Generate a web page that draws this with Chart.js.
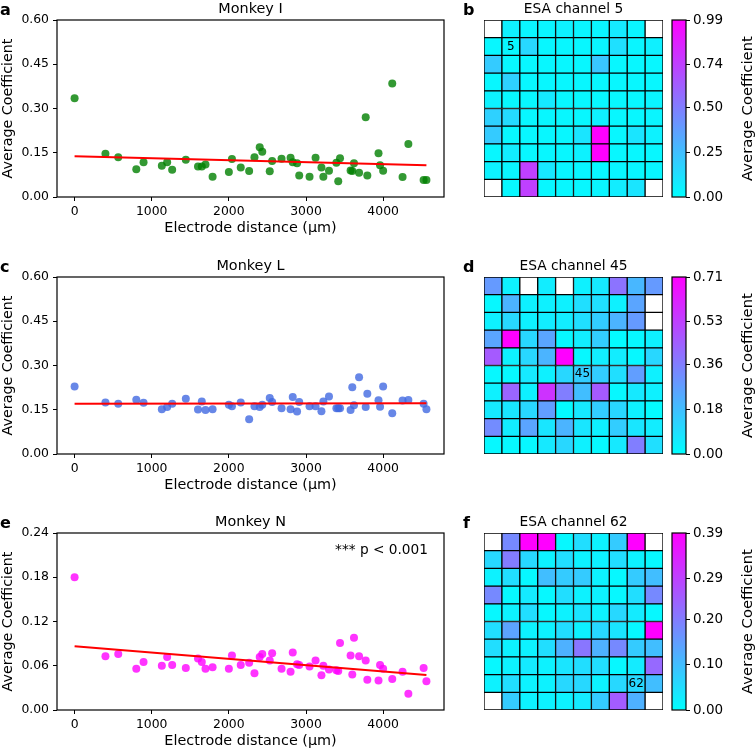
<!DOCTYPE html>
<html>
<head>
<meta charset="utf-8">
<script src="https://cdn.jsdelivr.net/npm/chart.js@4.4.0/dist/chart.umd.min.js"></script>
<style>
html, body { margin: 0; padding: 0; background: #fff; width: 755px; height: 751px; overflow: hidden; }
canvas { position: absolute; }
</style>
</head>
<body>
<canvas id="scatterI" width="450" height="240" style="left:0;top:0"></canvas>
<canvas id="heat5" width="210" height="240" style="left:462px;top:0"></canvas>
<canvas id="bar5" width="91" height="240" style="left:664px;top:0"></canvas>
<canvas id="scatterL" width="450" height="240" style="left:0;top:257px"></canvas>
<canvas id="heat45" width="210" height="240" style="left:462px;top:257px"></canvas>
<canvas id="bar45" width="91" height="240" style="left:664px;top:257px"></canvas>
<canvas id="scatterN" width="450" height="240" style="left:0;top:513px"></canvas>
<canvas id="heat62" width="210" height="240" style="left:462px;top:513px"></canvas>
<canvas id="bar62" width="91" height="240" style="left:664px;top:513px"></canvas>
<script>
// electrode distances (um) on the 10x10 array
var distances = [0, 400, 566, 800, 894, 1131, 1200, 1265, 1442, 1600, 1649, 1697, 1789,
  2000, 2040, 2154, 2263, 2332, 2400, 2433, 2530, 2561, 2683, 2800, 2828, 2884, 2912,
  3046, 3124, 3200, 3225, 3298, 3394, 3418, 3441, 3578, 3600, 3622, 3688, 3774, 3795,
  3940, 3960, 4000, 4118, 4252, 4327, 4525, 4561];

var monkeyI = [0.335, 0.147, 0.135, 0.094, 0.118, 0.106, 0.118, 0.092, 0.126, 0.103, 0.103, 0.110, 0.069,
  0.085, 0.129, 0.100, 0.088, 0.135, 0.169, 0.153, 0.087, 0.122, 0.130, 0.133, 0.118, 0.114, 0.073,
  0.069, 0.133, 0.100, 0.069, 0.089, 0.116, 0.053, 0.131, 0.090, 0.088, 0.114, 0.082, 0.270, 0.073,
  0.148, 0.108, 0.089, 0.385, 0.068, 0.180, 0.058, 0.058];

var monkeyL = [0.229, 0.175, 0.170, 0.184, 0.174, 0.152, 0.159, 0.170, 0.187, 0.151, 0.178, 0.149, 0.152,
  0.167, 0.162, 0.175, 0.118, 0.162, 0.159, 0.167, 0.190, 0.176, 0.155, 0.152, 0.193, 0.144, 0.176,
  0.162, 0.162, 0.145, 0.178, 0.195, 0.155, 0.155, 0.155, 0.149, 0.226, 0.165, 0.260, 0.159, 0.204,
  0.182, 0.160, 0.229, 0.138, 0.181, 0.183, 0.170, 0.152];

var monkeyN = [0.180, 0.073, 0.076, 0.056, 0.065, 0.060, 0.072, 0.061, 0.057, 0.070, 0.065, 0.056, 0.058,
  0.056, 0.074, 0.061, 0.064, 0.050, 0.072, 0.076, 0.067, 0.077, 0.056, 0.052, 0.078, 0.062, 0.061,
  0.059, 0.067, 0.047, 0.060, 0.055, 0.054, 0.053, 0.091, 0.074, 0.048, 0.098, 0.073, 0.067, 0.041,
  0.040, 0.061, 0.056, 0.042, 0.052, 0.022, 0.057, 0.039];

// regression line ends (at first and last distance)
var fitI = [0.138, 0.108];
var fitL = [0.170, 0.172];
var fitN = [0.0866, 0.0476];

var distTicks = [0, 1000, 2000, 3000, 4000];
var coefTicks = [0, 0.15, 0.30, 0.45, 0.60];
var coefTicksN = [0, 0.06, 0.12, 0.18, 0.24];

// ESA maps, rows top to bottom (null = unused corner)
var esa5 = [
  [null, 0.06, 0.04, 0.04, 0.05, 0.04, 0.04, 0.08, 0.04, null],
  [0.03, 0.03, 0.15, 0.03, 0.03, 0.03, 0.04, 0.12, 0.04, 0.06],
  [0.20, 0.03, 0.03, 0.03, 0.03, 0.03, 0.22, 0.03, 0.03, 0.03],
  [0.03, 0.18, 0.03, 0.03, 0.03, 0.03, 0.03, 0.03, 0.03, 0.03],
  [0.05, 0.03, 0.03, 0.08, 0.03, 0.03, 0.03, 0.03, 0.03, 0.04],
  [0.18, 0.14, 0.03, 0.03, 0.03, 0.03, 0.06, 0.03, 0.03, 0.04],
  [0.20, 0.03, 0.03, 0.03, 0.03, 0.10, 0.99, 0.03, 0.10, 0.05],
  [0.03, 0.07, 0.03, 0.03, 0.03, 0.05, 0.99, 0.03, 0.03, 0.03],
  [0.05, 0.04, 0.74, 0.09, 0.03, 0.03, 0.03, 0.03, 0.03, 0.03],
  [null, 0.03, 0.74, 0.03, 0.03, 0.03, 0.04, 0.07, 0.10, null]
];
var esa45 = [
  [0.28, 0.04, null, 0.05, null, 0.04, 0.06, 0.39, 0.20, 0.28],
  [0.02, 0.21, 0.04, 0.04, 0.04, 0.09, 0.09, 0.04, 0.25, null],
  [0.04, 0.11, 0.04, 0.05, 0.05, 0.09, 0.14, 0.21, 0.28, null],
  [0.25, 0.71, 0.11, 0.25, 0.02, 0.05, 0.14, 0.01, 0.02, 0.04],
  [0.46, 0.04, 0.11, 0.21, 0.71, 0.02, 0.05, 0.05, 0.02, 0.11],
  [0.02, 0.02, 0.06, 0.04, 0.11, 0.14, 0.14, 0.09, 0.27, 0.04],
  [0.04, 0.43, 0.04, 0.57, 0.36, 0.18, 0.46, 0.02, 0.06, 0.04],
  [0.06, 0.07, 0.11, 0.27, 0.01, 0.06, 0.14, 0.11, 0.04, 0.01],
  [0.32, 0.05, 0.25, 0.07, 0.21, 0.07, 0.04, 0.14, 0.07, 0.05],
  [0.02, 0.02, 0.02, 0.06, 0.11, 0.04, 0.02, 0.06, 0.36, 0.09]
];
var esa62 = [
  [null, 0.18, 0.39, 0.39, 0.01, 0.05, 0.02, 0.08, 0.39, null],
  [0.06, 0.20, 0.06, 0.02, 0.05, 0.02, 0.02, 0.05, 0.02, 0.01],
  [0.02, 0.05, 0.01, 0.10, 0.08, 0.08, 0.02, 0.01, 0.08, 0.10],
  [0.18, 0.01, 0.03, 0.01, 0.05, 0.02, 0.02, 0.01, 0.05, 0.18],
  [0.01, 0.02, 0.05, 0.01, 0.02, 0.04, 0.02, 0.06, 0.03, 0.01],
  [0.05, 0.14, 0.02, 0.02, 0.05, 0.02, 0.06, 0.04, 0.01, 0.39],
  [0.05, 0.02, 0.02, 0.05, 0.12, 0.21, 0.12, 0.18, 0.08, 0.10],
  [0.01, 0.02, 0.03, 0.02, 0.04, 0.05, 0.05, 0.01, 0.03, 0.23],
  [0.02, 0.05, 0.02, 0.02, 0.06, 0.06, 0.02, 0.06, 0.06, 0.10],
  [null, 0.08, 0.02, 0.02, 0.02, 0.03, 0.08, 0.25, 0.12, null]
];
var gridCols = ['0', '1', '2', '3', '4', '5', '6', '7', '8', '9'];

var cbTicks5 = [0, 0.25, 0.50, 0.74, 0.99];
var cbTicks45 = [0, 0.18, 0.36, 0.53, 0.71];
var cbTicks62 = [0, 0.10, 0.20, 0.29, 0.39];

Chart.defaults.font.family = 'DejaVu Sans';
Chart.defaults.font.size = 12.4;
Chart.defaults.color = '#000';

// matplotlib "cool" colormap
function cool(t) {
  t = Math.max(0, Math.min(1, t));
  return 'rgb(' + Math.round(255 * t) + ',' + Math.round(255 * (1 - t)) + ',255)';
}

var frame = {
  id: 'frame',
  afterDatasetsDraw: function(chart) {
    var a = chart.chartArea, ctx = chart.ctx;
    ctx.save();
    ctx.strokeStyle = '#000';
    ctx.lineWidth = 1.2;
    ctx.strokeRect(a.left, a.top, a.right - a.left, a.bottom - a.top);
    ctx.restore();
  }
};

var panelText = {
  id: 'panelText',
  afterDraw: function(chart, args, o) {
    var a = chart.chartArea, ctx = chart.ctx;
    ctx.save();
    ctx.fillStyle = '#000';
    if (o.title) {
      ctx.font = o.titleSize + 'px "DejaVu Sans"';
      ctx.textAlign = 'center';
      ctx.textBaseline = 'middle';
      ctx.fillText(o.title, (a.left + a.right) / 2, a.top - 10.5);
    }
    if (o.letter) {
      ctx.font = 'bold 16px "DejaVu Sans"';
      ctx.textAlign = 'left';
      ctx.textBaseline = 'alphabetic';
      ctx.fillText(o.letter, o.letterX, 15);
    }
    if (o.note) {
      ctx.font = '13.7px "DejaVu Sans"';
      ctx.textAlign = 'right';
      ctx.textBaseline = 'middle';
      ctx.fillText(o.note, a.right - 16, a.top + 17);
    }
    if (o.cell) {
      ctx.font = '12px "DejaVu Sans"';
      ctx.textAlign = 'center';
      ctx.textBaseline = 'middle';
      var x = chart.scales.x.getPixelForValue(o.cell.col);
      var y = chart.scales.y.getPixelForValue(10 - o.cell.row - 0.5);
      ctx.fillText(o.cell.label, x, y);
    }
    if (o.vtitle) {
      ctx.font = '14.8px "DejaVu Sans"';
      ctx.textAlign = 'center';
      ctx.textBaseline = 'middle';
      ctx.translate(84, (a.top + a.bottom) / 2);
      ctx.rotate(-Math.PI / 2);
      ctx.fillText(o.vtitle, 0, 0);
    }
    ctx.restore();
  }
};

function makeScatter(id, vals, fit, yMax, yTicks, color, txt) {
  var last = distances.length - 1;
  new Chart(document.getElementById(id), {
    type: 'scatter',
    data: {
      datasets: [{
        type: 'line',
        data: [{x: distances[0], y: fit[0]}, {x: distances[last], y: fit[1]}],
        borderColor: '#ff0000',
        borderWidth: 2,
        pointRadius: 0,
        order: 0
      }, {
        data: distances.map(function(d, i) { return {x: d, y: vals[i]}; }),
        backgroundColor: color,
        borderWidth: 0,
        pointRadius: 4,
        order: 1
      }]
    },
    options: {
      responsive: false,
      animation: false,
      events: [],
      layout: {padding: {top: 20, right: 6, left: 0, bottom: 0}},
      plugins: {legend: {display: false}, tooltip: {enabled: false}, panelText: txt},
      scales: {
        x: {
          type: 'linear', min: -228, max: 4789,
          afterBuildTicks: function(s) { s.ticks = distTicks.map(function(v) { return {value: v}; }); },
          afterFit: function(s) { s.height = 43; },
          grid: {drawOnChartArea: false, tickLength: 4, color: '#000'},
          border: {display: false},
          ticks: {callback: function(v) { return String(v); }, padding: 3, maxRotation: 0, autoSkip: false},
          title: {display: true, text: 'Electrode distance (μm)', font: {size: 14.4}, padding: {top: 0, bottom: 3}}
        },
        y: {
          min: 0, max: yMax,
          afterBuildTicks: function(s) { s.ticks = yTicks.map(function(v) { return {value: v}; }); },
          afterFit: function(s) { s.width = 57; },
          grid: {drawOnChartArea: false, tickLength: 4, color: '#000'},
          border: {display: false},
          ticks: {callback: function(v) { return v.toFixed(2); }, padding: 4},
          title: {display: true, text: 'Average Coefficient', font: {size: 14.3}, padding: {top: 0, bottom: 0}}
        }
      }
    },
    plugins: [frame, panelText]
  });
}

function makeHeat(id, grid, vmax, txt) {
  var sets = [];
  for (var r = grid.length - 1; r >= 0; r--) {
    sets.push({
      data: grid[r].map(function() { return 1; }),
      backgroundColor: grid[r].map(function(v) { return v === null ? '#ffffff' : cool(v / vmax); }),
      borderColor: '#000',
      borderWidth: 1,
      borderSkipped: false,
      barPercentage: 1,
      categoryPercentage: 1
    });
  }
  new Chart(document.getElementById(id), {
    type: 'bar',
    data: {labels: gridCols, datasets: sets},
    options: {
      responsive: false,
      animation: false,
      events: [],
      layout: {padding: {top: 20, left: 22, right: 9, bottom: 43}},
      plugins: {legend: {display: false}, tooltip: {enabled: false}, panelText: txt},
      scales: {
        x: {stacked: true, display: false},
        y: {stacked: true, display: false, min: 0, max: 10}
      }
    },
    plugins: [panelText]
  });
}

function makeColorbar(id, vmax, ticks) {
  new Chart(document.getElementById(id), {
    type: 'bar',
    data: {
      labels: [''],
      datasets: [{
        data: [vmax],
        backgroundColor: function(c) {
          var a = c.chart.chartArea;
          if (!a) return cool(0);
          var g = c.chart.ctx.createLinearGradient(0, a.bottom, 0, a.top);
          g.addColorStop(0, cool(0));
          g.addColorStop(1, cool(1));
          return g;
        },
        borderWidth: 0,
        barPercentage: 1,
        categoryPercentage: 1
      }]
    },
    options: {
      responsive: false,
      animation: false,
      events: [],
      layout: {padding: {top: 20, left: 8, right: 0, bottom: 43}},
      plugins: {legend: {display: false}, tooltip: {enabled: false}, panelText: {vtitle: 'Average Coefficient'}},
      scales: {
        x: {display: false},
        y: {
          position: 'right', min: 0, max: vmax,
          afterBuildTicks: function(s) { s.ticks = ticks.map(function(v) { return {value: v}; }); },
          afterFit: function(s) { s.width = 69; },
          grid: {drawOnChartArea: false, tickLength: 4, color: '#000'},
          border: {display: false},
          ticks: {callback: function(v) { return v.toFixed(2); }, padding: 3, font: {size: 13.5}}
        }
      }
    },
    plugins: [frame, panelText]
  });
}

makeScatter('scatterI', monkeyI, fitI, 0.6, coefTicks, 'rgba(0,128,0,0.8)', {title: 'Monkey I', titleSize: 14.4, letter: 'a', letterX: 0});
makeScatter('scatterL', monkeyL, fitL, 0.6, coefTicks, 'rgba(65,105,225,0.8)', {title: 'Monkey L', titleSize: 14.4, letter: 'c', letterX: 0});
makeScatter('scatterN', monkeyN, fitN, 0.24, coefTicksN, 'rgba(255,0,255,0.8)', {title: 'Monkey N', titleSize: 14.4, letter: 'e', letterX: 0, note: '*** p < 0.001'});

makeHeat('heat5', esa5, 0.99, {title: 'ESA channel 5', titleSize: 13.8, letter: 'b', letterX: 1, cell: {label: '5', row: 1, col: 1}});
makeHeat('heat45', esa45, 0.71, {title: 'ESA channel 45', titleSize: 13.8, letter: 'd', letterX: 1, cell: {label: '45', row: 5, col: 5}});
makeHeat('heat62', esa62, 0.39, {title: 'ESA channel 62', titleSize: 13.8, letter: 'f', letterX: 1, cell: {label: '62', row: 8, col: 8}});

makeColorbar('bar5', 0.99, cbTicks5);
makeColorbar('bar45', 0.71, cbTicks45);
makeColorbar('bar62', 0.39, cbTicks62);
</script>
</body>
</html>
